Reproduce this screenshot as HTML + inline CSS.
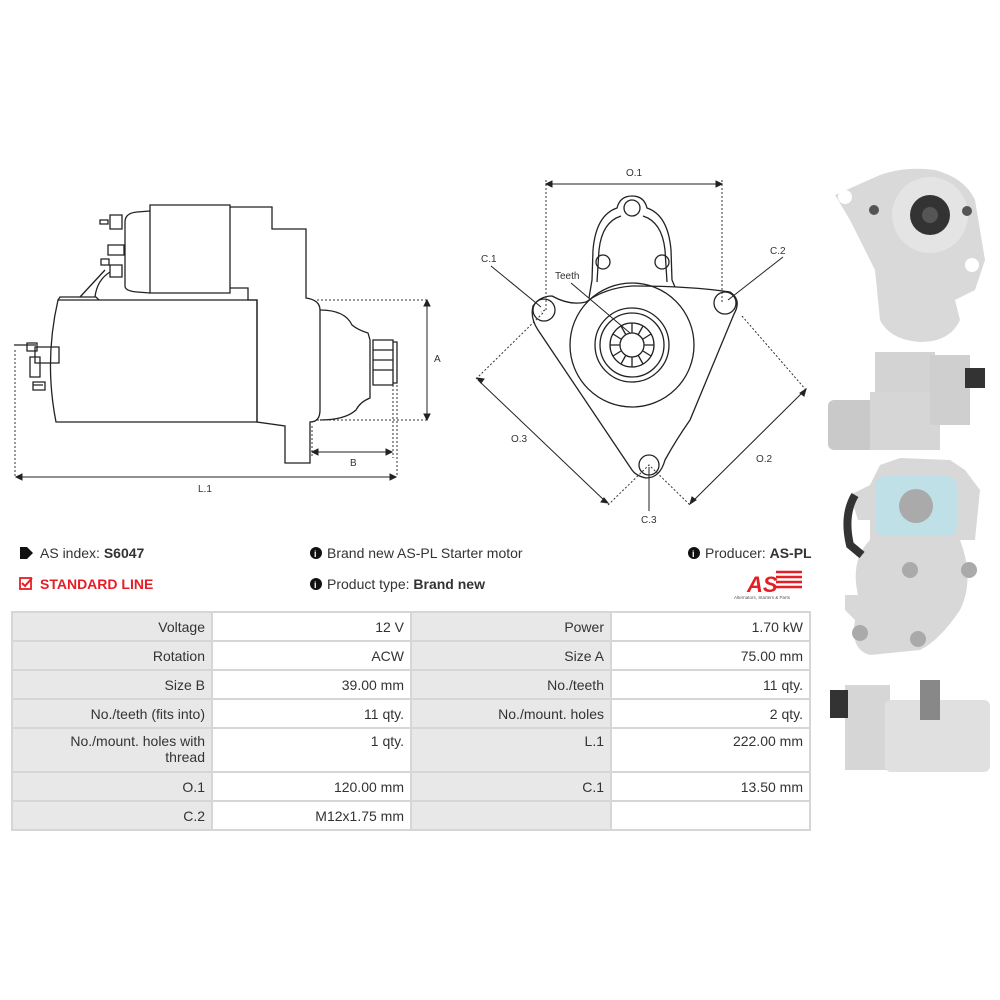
<!DOCTYPE html>
<html><head><meta charset="utf-8"><style>
body{margin:0;background:#fff;width:1000px;height:1000px;position:relative;overflow:hidden;font-family:"Liberation Sans",sans-serif;}
svg{position:absolute;left:0;top:0}
.t{position:absolute;font-size:14px;color:#333;white-space:nowrap}
table{position:absolute;left:11px;top:611px;border-collapse:collapse;font-size:14px;color:#333}
td{border:2px solid #d6d6d6;text-align:right;padding:0 6px;height:27px;vertical-align:middle}
td.l{background:#e8e8e8;width:186px}
td.v{background:#fff;width:185px}
tr.tall td{height:38px;vertical-align:top;padding-top:4px}
</style></head><body>
<svg width="1000" height="1000" viewBox="0 0 1000 1000">
<g fill="none" stroke="#222" stroke-width="1.3">
<path d="M58,300 L257,300 L257,422 L56,422 Q44,361 58,300 Z"/>
<path d="M150,205 L230,205 L230,293 L150,293 Z"/>
<path d="M150,211 L137,212 Q125,213 125,222 L125,286 Q125,291 137,292 L150,293"/>
<path d="M110,215 h12 v14 h-12z M108,224 h-8 v-4 h8z M110,265 h12 v12 h-12z M109,265 l-8 0 l0 -6 l8 0z M108,245 h16 v10 h-16z"/>
<path d="M230,207 L272,207 L272,229 L306,229 L306,298 Q320,300 320,310 L320,410 Q320,422 310,422 L310,463 L285,463 L285,426 L257,422 L257,300 L248,300 L248,288 L230,288"/>
<path d="M320,310 Q345,310 352,325 Q358,330 368,333 L370,340 L370,398 Q360,402 356,410 Q345,420 320,420"/>
<path d="M373,340 h20 v45 h-20z M393,342 h4 v41 h-4z M373,350h20 M373,360h20 M373,370h20"/>
<path d="M58,300 l2,-3 h36 l3,3 M80,297 L105,270 M95,297 Q97,280 110,272"/>
<path d="M35,347 h24 v16 h-24z M27,343 h10 v8 h-10z M30,357 h10 v20 h-10z M33,382 h12 v8 h-12z M14,345 h22 M33,385 h10" />
</g>
<g stroke="#333" stroke-width="1" stroke-dasharray="2,2" fill="none">
<path d="M15,350 V477 M317,300 H428 M317,420 H428 M312,426 V458 M393,385 V458 M397,385 V477"/>
</g>
<g stroke="#222" stroke-width="1" fill="#222">
<line x1="18" y1="477" x2="394" y2="477"/><path d="M16,477 l6,-3 v6z M396,477 l-6,-3 v6z"/>
<line x1="427" y1="302" x2="427" y2="418"/><path d="M427,300 l-3,6 h6z M427,420 l-3,-6 h6z"/>
<line x1="313" y1="452" x2="390" y2="452"/><path d="M312,452 l6,-3 v6z M392,452 l-6,-3 v6z"/>
</g>
<g font-size="10" fill="#333" font-family="Liberation Sans,sans-serif">
<text x="434" y="362">A</text><text x="350" y="466">B</text><text x="198" y="492">L.1</text>
<text x="626" y="176">O.1</text><text x="481" y="262">C.1</text><text x="770" y="254">C.2</text>
<text x="555" y="279">Teeth</text><text x="511" y="442">O.3</text><text x="756" y="462">O.2</text><text x="641" y="523">C.3</text>
</g>
<g fill="none" stroke="#222" stroke-width="1.3">
<path d="M533,306 Q540,296 552,296 Q570,306 586,302 Q605,288 632,286 Q690,286 730,292 Q742,300 734,314 L690,420 Q676,440 665,460 Q660,478 646,478 Q636,476 632,470 L538,330 Q530,318 533,306 Z"/>
<path d="M589,298 L592,280 L593,250 Q596,215 617,208 Q620,196 632,196 Q644,196 647,208 Q668,215 671,250 L672,280 L675,287"/>
<path d="M597,282 L599,250 Q602,222 621,216 M643,216 Q662,222 665,250 L667,282"/>
<circle cx="632" cy="208" r="8"/><circle cx="603" cy="262" r="7"/><circle cx="662" cy="262" r="7"/>
<circle cx="544" cy="310" r="11"/><circle cx="725" cy="303" r="11"/><circle cx="649" cy="465" r="10"/>
<circle cx="632" cy="345" r="62"/><circle cx="632" cy="345" r="37"/><circle cx="632" cy="345" r="32"/><circle cx="632" cy="345" r="22"/><circle cx="632" cy="345" r="12"/>
<path d="M632,323 v10 M643,326 l-5,9 M651,334 l-8,5 M654,345 h-10 M651,356 l-8,-5 M643,364 l-5,-9 M632,367 v-10 M621,364 l5,-9 M613,356 l8,-5 M610,345 h10 M613,334 l8,5 M621,326 l5,9"/>
</g>
<g stroke="#333" stroke-width="1" stroke-dasharray="2,2" fill="none">
<path d="M546,180 V312 M722,180 V303 M476,379 L544,312 M545,310 L541,312 M742,316 L806,390 M608,505 L649,465 L690,505"/>
</g>
<g stroke="#222" stroke-width="1" fill="#222">
<line x1="548" y1="184" x2="720" y2="184"/><path d="M546,184 l6,-3 v6z M722,184 l-6,-3 v6z"/>
<line x1="478" y1="380" x2="606" y2="502"/><path d="M477,378 l7,1 l-3,4z M608,503 l-7,-1 l3,-4z"/>
<line x1="804" y1="391" x2="692" y2="502"/><path d="M806,389 l-2,7 l-4,-3z M690,504 l2,-7 l4,3z"/>
<line x1="491" y1="266" x2="541" y2="307"/><line x1="783" y1="257" x2="728" y2="300"/>
<line x1="571" y1="283" x2="630" y2="333"/><line x1="649" y1="511" x2="649" y2="467"/>
</g>
<g>
<path d="M835,195 L880,175 Q905,166 935,170 Q965,178 975,200 L985,260 L975,290 L955,300 L960,320 Q950,342 920,342 Q890,340 880,320 L875,270 L850,220 Z" fill="#d9d9d9"/>
<circle cx="930" cy="215" r="38" fill="#e4e4e4"/><circle cx="930" cy="215" r="20" fill="#333"/><circle cx="930" cy="215" r="8" fill="#555"/>
<circle cx="845" cy="197" r="7" fill="#fff"/><circle cx="972" cy="265" r="7" fill="#fff"/>
<circle cx="874" cy="210" r="5" fill="#555"/><circle cx="967" cy="211" r="5" fill="#555"/>
<rect x="828" y="400" width="55" height="50" rx="6" fill="#c9c9c9"/><rect x="870" y="392" width="70" height="58" fill="#d6d6d6"/>
<rect x="875" y="352" width="60" height="40" fill="#d3d3d3"/><rect x="930" y="355" width="40" height="70" fill="#cfcfcf"/>
<rect x="965" y="368" width="20" height="20" fill="#333"/>
<path d="M880,465 L900,458 L950,460 L965,470 L980,490 L975,540 L960,540 Q975,580 960,610 Q940,640 920,650 L870,655 Q850,650 855,620 L845,610 L845,595 L858,595 Q850,560 870,540 L870,520 L858,520 L850,495 L870,485 Z" fill="#d8d8d8"/>
<rect x="875" y="476" width="82" height="60" rx="10" fill="#bfe0e6"/><circle cx="916" cy="506" r="17" fill="#aaa"/>
<path d="M855,495 q-12,20 -5,50 l12,10" stroke="#333" stroke-width="8" fill="none"/>
<circle cx="910" cy="570" r="8" fill="#aaa"/><circle cx="969" cy="570" r="8" fill="#aaa"/><circle cx="860" cy="633" r="8" fill="#aaa"/><circle cx="918" cy="639" r="8" fill="#aaa"/>
<rect x="845" y="685" width="45" height="85" fill="#d6d6d6"/><rect x="885" y="700" width="105" height="72" rx="6" fill="#e0e0e0"/>
<rect x="830" y="690" width="18" height="28" fill="#333"/><rect x="920" y="680" width="20" height="40" fill="#888"/>
</g>
<path d="M20,547 h7 l6,6 l-6,6 h-7z" fill="#111"/>
<rect x="20" y="578" width="11" height="11" fill="none" stroke="#e51e25" stroke-width="1.8"/><path d="M22,583 l3,3 l7,-8" stroke="#e51e25" stroke-width="2" fill="none"/>
<circle cx="316" cy="553" r="6" fill="#111"/><text x="314" y="557" font-size="9" fill="#fff" font-weight="bold">i</text>
<circle cx="316" cy="584" r="6" fill="#111"/><text x="314" y="588" font-size="9" fill="#fff" font-weight="bold">i</text>
<circle cx="694" cy="553" r="6" fill="#111"/><text x="692" y="557" font-size="9" fill="#fff" font-weight="bold">i</text>
<text x="747" y="592" font-size="22" font-weight="bold" font-style="italic" fill="#e51e25">AS</text>
<path d="M776,572h26M776,577h26M776,582h26M776,587h26" stroke="#e51e25" stroke-width="2.5"/>
<text x="734" y="599" font-size="4.5" fill="#555">Alternators, Starters &amp; Parts</text>
</svg>
<div class="t" style="left:40px;top:545px">AS index: <b>S6047</b></div>
<div class="t" style="left:40px;top:576px;color:#e51e25;font-weight:bold">STANDARD LINE</div>
<div class="t" style="left:327px;top:545px">Brand new AS-PL Starter motor</div>
<div class="t" style="left:327px;top:576px">Product type: <b>Brand new</b></div>
<div class="t" style="left:705px;top:545px">Producer: <b>AS-PL</b></div>
<table>
<tr><td class="l">Voltage</td><td class="v">12 V</td><td class="l">Power</td><td class="v">1.70 kW</td></tr>
<tr><td class="l">Rotation</td><td class="v">ACW</td><td class="l">Size A</td><td class="v">75.00 mm</td></tr>
<tr><td class="l">Size B</td><td class="v">39.00 mm</td><td class="l">No./teeth</td><td class="v">11 qty.</td></tr>
<tr><td class="l">No./teeth (fits into)</td><td class="v">11 qty.</td><td class="l">No./mount. holes</td><td class="v">2 qty.</td></tr>
<tr class="tall"><td class="l">No./mount. holes with<br>thread</td><td class="v">1 qty.</td><td class="l">L.1</td><td class="v">222.00 mm</td></tr>
<tr><td class="l">O.1</td><td class="v">120.00 mm</td><td class="l">C.1</td><td class="v">13.50 mm</td></tr>
<tr><td class="l">C.2</td><td class="v">M12x1.75 mm</td><td class="l"></td><td class="v"></td></tr>
</table>
</body></html>
